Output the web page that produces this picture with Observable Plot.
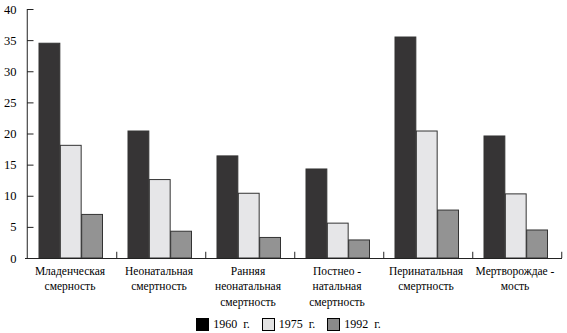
<!DOCTYPE html>
<html>
<head>
<meta charset="utf-8">
<script src="https://cdn.jsdelivr.net/npm/d3@7"></script>
<script src="https://cdn.jsdelivr.net/npm/@observablehq/plot@0.6"></script>
<style>
  body { margin: 0; background: #fff; font-family: "Liberation Serif", "DejaVu Serif", serif; }
  #legend { display: flex; justify-content: center; gap: 12px; font-size: 12px; color: #000; padding-top: 5px; padding-left: 10px; }
  #legend .item { display: flex; align-items: center; gap: 4px; }
  #legend .sw { width: 11px; height: 11px; border: 1px solid #000; }
  svg text { font-family: "Liberation Serif", serif; }
</style>
</head>
<body>
<div id="chart"></div>
<div id="legend"></div>
<script>
const categories = [
  "Младенческая\nсмерность",
  "Неонатальная\nсмертность",
  "Ранняя\nнеонатальная\nсмертность",
  "Постнео -\nнатальная\nсмертность",
  "Перинатальная\nсмертность",
  "Мертворождае -\nмость"
];
const years = ["1960  г.", "1975  г.", "1992  г."];
const values1960 = [34.5, 20.4, 16.4, 14.3, 35.5, 19.6];
const values1975 = [18.1, 12.6, 10.4, 5.6, 20.4, 10.3];
const values1992 = [7.0, 4.3, 3.3, 2.9, 7.7, 4.5];
const yTicks = [0, 5, 10, 15, 20, 25, 30, 35, 40];

const series = [values1960, values1975, values1992];
const colors = ["#363435", "#e6e6e8", "#939393"];
const legendColors = ["#000000", "#e2e2e2", "#8a8a8a"];

const W = 567, ML = 25, MR = 5;
const bw = (W - ML - MR) / categories.length;
const padL = 12, padR = 13.5;
const barW = (bw - padL - padR) / 3;
const serif = "'Liberation Serif', serif";

const barMarks = series.map((vals, j) =>
  Plot.barY(categories.map((c, i) => ({c, v: vals[i]})), {
    x: "c", y: "v", fill: colors[j], stroke: "#333", strokeWidth: 1,
    insetLeft: padL + barW * j,
    insetRight: bw - padL - barW * (j + 1)
  })
);

const chart = Plot.plot({
  width: W,
  height: 312,
  marginLeft: ML,
  marginRight: MR,
  marginTop: 9,
  marginBottom: 54,
  style: {fontFamily: serif, fontSize: "12px", color: "#000", background: "#fff"},
  x: {domain: categories, padding: 0, label: null},
  y: {domain: [0, 40], label: null},
  marks: [
    ...barMarks,
    Plot.ruleY([0], {stroke: "#222"}),
    Plot.tickY(yTicks, {y: d => d, x: () => categories[0], stroke: "#222", insetRight: bw - 7}),
    Plot.ruleX([categories[0]], {x: d => d, y1: 0, y2: 40, dx: -bw / 2, stroke: "#222"}),
    Plot.ruleX(categories, {x: d => d, y1: 0, y2: 1, dx: bw / 2, stroke: "#222"}),
    Plot.axisY({ticks: yTicks, tickSize: 0, tickPadding: 9, fontSize: 12.5, fontFamily: serif, fill: "#000"}),
    Plot.axisX({tickSize: 0, tickPadding: 5, fontSize: 11.5, lineHeight: 1.35, dx: -2, fontFamily: serif, fill: "#000"})
  ]
});
document.getElementById("chart").appendChild(chart);

const lg = document.getElementById("legend");
years.forEach((y, j) => {
  const it = document.createElement("div");
  it.className = "item";
  const sw = document.createElement("div");
  sw.className = "sw";
  sw.style.background = legendColors[j];
  const t = document.createElement("span");
  t.textContent = y;
  t.style.whiteSpace = "pre";
  it.appendChild(sw); it.appendChild(t);
  lg.appendChild(it);
});
</script>
</body>
</html>
